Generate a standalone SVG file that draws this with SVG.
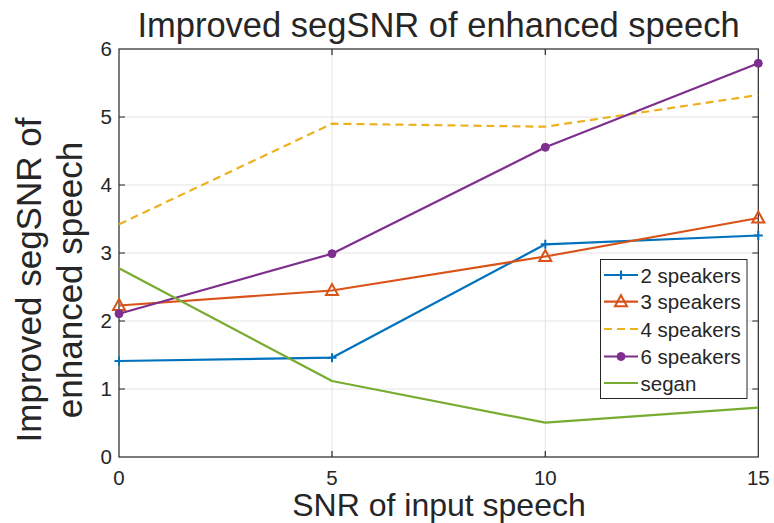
<svg xmlns="http://www.w3.org/2000/svg" width="774" height="523" viewBox="0 0 774 523">
<style>
text{font-family:"Liberation Sans",Arial,sans-serif;fill:#262626}
.tick{font-size:20.5px}
.grid{stroke:#e3e3e3;stroke-width:1;fill:none}
.ax{stroke:#262626;stroke-width:1.2;fill:none}
.s{fill:none;stroke-width:2.2;stroke-linejoin:round}
.b{stroke:#0072BD}
.o{stroke:#D95319}
.y{stroke:#EDB120;stroke-dasharray:8,5}
.p{stroke:#7E2F8E}
.g{stroke:#77AC30}
</style>
<defs>
<g id="mplus"><path d="M-4.5,0H4.5M0,-4.5V4.5" stroke="#0072BD" stroke-width="2"/></g>
<g id="mtri"><path d="M0,-6.5L6,4.5H-6Z" fill="none" stroke="#D95319" stroke-width="2"/></g>
<g id="mdot"><circle r="4" fill="#7E2F8E" stroke="#7E2F8E" stroke-width="1"/></g>
</defs>
<rect width="774" height="523" fill="#ffffff"/>
<g id="axes">
<g id="grid">
<path class="grid" d="M120,389H757M120,321H757M120,253H757M120,185H757M120,117H757M332,50V456M545.3,50V456"/>
</g>
<rect class="ax" x="119" y="49" width="639.3" height="408"/>
<path class="ax" d="M119,389h6M119,321h6M119,253h6M119,185h6M119,117h6M758.3,389h-6M758.3,321h-6M758.3,253h-6M758.3,185h-6M758.3,117h-6M332,457v-6M545.3,457v-6M332,49v6M545.3,49v6"/>
<g id="yticks" class="tick" text-anchor="end">
<text x="112" y="464">0</text>
<text x="112" y="396">1</text>
<text x="112" y="328">2</text>
<text x="112" y="260">3</text>
<text x="112" y="192">4</text>
<text x="112" y="124">5</text>
<text x="112" y="56">6</text>
</g>
<g id="xticks" class="tick" text-anchor="middle">
<text x="119" y="485">0</text>
<text x="332" y="485">5</text>
<text x="545.3" y="485">10</text>
<text x="758.3" y="485">15</text>
</g>
</g>
<text id="title" x="438.5" y="37" font-size="34.5" text-anchor="middle" fill="#000">Improved segSNR of enhanced speech</text>
<text id="xlabel" x="439" y="516" font-size="32" text-anchor="middle">SNR of input speech</text>
<g id="ylabel" font-size="35" text-anchor="middle">
<text transform="translate(41,280) rotate(-90)">Improved segSNR of</text>
<text transform="translate(82,280) rotate(-90)">enhanced speech</text>
</g>
<g id="connectors">
<polyline id="s2" class="s b" points="119,361 332,357.7 545.3,244.3 758.3,235.5"/>
<polyline id="s3" class="s o" points="119,305.5 332,290.5 545.3,256.5 758.3,218"/>
<polyline id="s4" class="s y" points="119,224.3 332,123.7 545.3,126.7 758.3,95"/>
<polyline id="s6" class="s p" points="119,313.7 332,253.7 545.3,147.3 758.3,63.3"/>
<polyline id="segan" class="s g" points="119,268.3 332,381 545.3,422.7 758.3,407.7"/>
</g>
<g id="markers">
<use href="#mplus" x="119" y="361"/><use href="#mplus" x="332" y="357.7"/><use href="#mplus" x="545.3" y="244.3"/><use href="#mplus" x="758.3" y="235.5"/>
<use href="#mtri" x="119" y="305.5"/><use href="#mtri" x="332" y="290.5"/><use href="#mtri" x="545.3" y="256.5"/><use href="#mtri" x="758.3" y="218"/>
<use href="#mdot" x="119" y="313.7"/><use href="#mdot" x="332" y="253.7"/><use href="#mdot" x="545.3" y="147.3"/><use href="#mdot" x="758.3" y="63.3"/>
</g>
<g id="legend">
<rect x="600.5" y="259.5" width="146.5" height="139" fill="#ffffff" stroke="#262626" stroke-width="1"/>
<path class="s b" d="M604,275H638"/><use href="#mplus" x="621" y="275"/>
<path class="s o" d="M604,301.7H638"/><use href="#mtri" x="621" y="301.7"/>
<path class="s y" d="M604,329H638" stroke-dasharray="7,4.5"/>
<path class="s p" d="M604,356.5H638"/><use href="#mdot" x="621" y="356.5"/>
<path class="s g" d="M604,383H638"/>
<g font-size="20.5">
<text x="640.5" y="282.5">2 speakers</text>
<text x="640.5" y="309">3 speakers</text>
<text x="640.5" y="336.5">4 speakers</text>
<text x="640.5" y="364">6 speakers</text>
<text x="640.5" y="390.5">segan</text>
</g>
</g>
</svg>
